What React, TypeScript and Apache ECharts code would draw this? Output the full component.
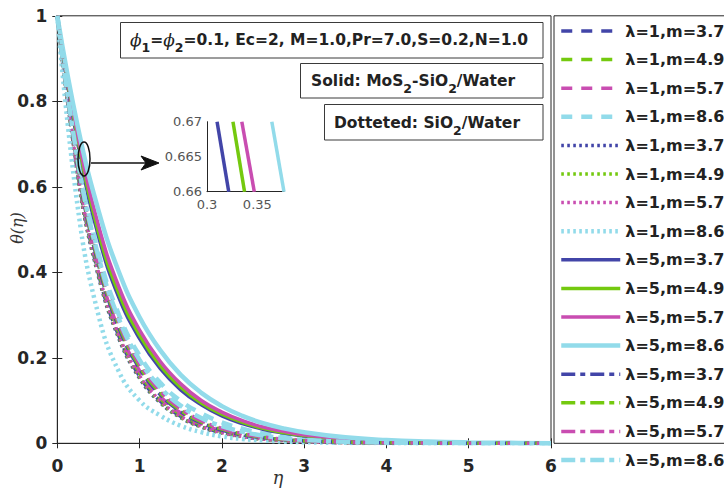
import React, { useEffect, useRef } from "react";
import * as echarts from "echarts";

// similarity variable
const eta = [0, 0.25, 0.5, 0.75, 1, 1.25, 1.5, 1.75, 2, 2.25, 2.5, 2.75, 3, 3.5, 4, 4.5, 5, 5.5, 6];

// λ=1, dashed (MoS2-SiO2/Water)
const dashM37 = [1, 0.63, 0.397, 0.25, 0.157, 0.099, 0.063, 0.04, 0.025, 0.016, 0.01, 0.0065, 0.004, 0.0017, 0.0007, 0.0003, 0.0001, 0, 0];
const dashM49 = [1, 0.635, 0.405, 0.258, 0.164, 0.105, 0.067, 0.043, 0.027, 0.0175, 0.011, 0.007, 0.0045, 0.0019, 0.0008, 0.0003, 0.0001, 0, 0];
const dashM57 = [1, 0.64, 0.412, 0.265, 0.17, 0.11, 0.071, 0.046, 0.029, 0.019, 0.012, 0.0078, 0.005, 0.0021, 0.0009, 0.0004, 0.0001, 0, 0];
const dashM86 = [1, 0.67, 0.445, 0.3, 0.205, 0.142, 0.099, 0.07, 0.049, 0.034, 0.023, 0.016, 0.011, 0.005, 0.0022, 0.001, 0.0004, 0.0002, 0.0001];

// λ=1, dotted (SiO2/Water)
const dotM37 = [1, 0.62, 0.39, 0.244, 0.152, 0.095, 0.06, 0.038, 0.024, 0.015, 0.0095, 0.006, 0.0038, 0.0016, 0.0007, 0.0003, 0.0001, 0, 0];
const dotM49 = [1, 0.625, 0.395, 0.248, 0.155, 0.097, 0.061, 0.039, 0.0245, 0.0155, 0.0098, 0.0062, 0.0039, 0.0016, 0.0007, 0.0003, 0.0001, 0, 0];
const dotM57 = [1, 0.63, 0.4, 0.252, 0.158, 0.1, 0.063, 0.04, 0.025, 0.016, 0.01, 0.0064, 0.004, 0.0017, 0.0007, 0.0003, 0.0001, 0, 0];
const dotM86 = [1, 0.55, 0.3, 0.167, 0.1, 0.065, 0.041, 0.026, 0.016, 0.01, 0.0065, 0.004, 0.0025, 0.001, 0.0004, 0.0001, 0, 0, 0];

// λ=5, solid (MoS2-SiO2/Water)
const solidM37 = [1, 0.7, 0.485, 0.34, 0.245, 0.175, 0.125, 0.09, 0.064, 0.046, 0.033, 0.024, 0.017, 0.009, 0.0045, 0.002, 0.001, 0.0005, 0];
const solidM49 = [1, 0.71, 0.495, 0.35, 0.253, 0.182, 0.131, 0.094, 0.068, 0.049, 0.035, 0.025, 0.018, 0.0095, 0.005, 0.0025, 0.0012, 0.0005, 0];
const solidM57 = [1, 0.72, 0.51, 0.365, 0.265, 0.192, 0.139, 0.1, 0.073, 0.053, 0.038, 0.028, 0.02, 0.0105, 0.0055, 0.0028, 0.0014, 0.0006, 0];
const solidM86 = [1, 0.74, 0.545, 0.4, 0.295, 0.218, 0.16, 0.118, 0.087, 0.064, 0.047, 0.035, 0.026, 0.014, 0.0075, 0.004, 0.002, 0.001, 0.0004];

// λ=5, dash-dot (SiO2/Water)
const dashDotM37 = [1, 0.645, 0.418, 0.27, 0.175, 0.114, 0.074, 0.048, 0.031, 0.02, 0.013, 0.0085, 0.0055, 0.0023, 0.001, 0.0004, 0.0002, 0, 0];
const dashDotM49 = [1, 0.65, 0.424, 0.276, 0.18, 0.118, 0.077, 0.05, 0.033, 0.0215, 0.014, 0.009, 0.006, 0.0025, 0.0011, 0.0005, 0.0002, 0, 0];
const dashDotM57 = [1, 0.655, 0.43, 0.282, 0.186, 0.123, 0.081, 0.053, 0.035, 0.023, 0.015, 0.0098, 0.0065, 0.0028, 0.0012, 0.0005, 0.0002, 0, 0];
const dashDotM86 = [1, 0.66, 0.437, 0.29, 0.195, 0.131, 0.088, 0.059, 0.04, 0.027, 0.018, 0.012, 0.008, 0.0036, 0.0016, 0.0007, 0.0003, 0.0001, 0];

// zoomed window near η≈0.34, λ=5 solid curves
const insetTheta = [0.67, 0.66];
const insetEtaM37 = [0.31, 0.3216];
const insetEtaM49 = [0.3258, 0.3373];
const insetEtaM57 = [0.3346, 0.347];
const insetEtaM86 = [0.3644, 0.3765];

const xTicks = [0, 1, 2, 3, 4, 5, 6];
const yTicks = [0, 0.2, 0.4, 0.6, 0.8, 1];

const BLUE = "#4245A8";
const GREEN = "#74C90F";
const MAGENTA = "#C94DB1";
const CYAN = "#92DBEA";

const DASH = [11, 9];
const DOT = [2.6, 3.4];
const DASHDOT = [14, 5, 5, 5];

const ZW = "\u200B";

type Curve = { name: string; data: number[]; color: string; dash: any; width: number };

const curves: Curve[] = [
  { name: "λ=1,m=3.7", data: dashM37, color: BLUE, dash: DASH, width: 3.5 },
  { name: "λ=1,m=4.9", data: dashM49, color: GREEN, dash: DASH, width: 3.5 },
  { name: "λ=1,m=5.7", data: dashM57, color: MAGENTA, dash: DASH, width: 3.5 },
  { name: "λ=1,m=8.6", data: dashM86, color: CYAN, dash: DASH, width: 4.5 },
  { name: "λ=1,m=3.7" + ZW, data: dotM37, color: BLUE, dash: DOT, width: 3.5 },
  { name: "λ=1,m=4.9" + ZW, data: dotM49, color: GREEN, dash: DOT, width: 3.5 },
  { name: "λ=1,m=5.7" + ZW, data: dotM57, color: MAGENTA, dash: DOT, width: 3.5 },
  { name: "λ=1,m=8.6" + ZW, data: dotM86, color: CYAN, dash: DOT, width: 4.5 },
  { name: "λ=5,m=3.7", data: solidM37, color: BLUE, dash: "solid", width: 3.5 },
  { name: "λ=5,m=4.9", data: solidM49, color: GREEN, dash: "solid", width: 3.5 },
  { name: "λ=5,m=5.7", data: solidM57, color: MAGENTA, dash: "solid", width: 3.5 },
  { name: "λ=5,m=8.6", data: solidM86, color: CYAN, dash: "solid", width: 4.5 },
  { name: "λ=5,m=3.7" + ZW, data: dashDotM37, color: BLUE, dash: DASHDOT, width: 3.5 },
  { name: "λ=5,m=4.9" + ZW, data: dashDotM49, color: GREEN, dash: DASHDOT, width: 3.5 },
  { name: "λ=5,m=5.7" + ZW, data: dashDotM57, color: MAGENTA, dash: DASHDOT, width: 3.5 },
  { name: "λ=5,m=8.6" + ZW, data: dashDotM86, color: CYAN, dash: DASHDOT, width: 4.5 },
];

const insetCurves = [
  { x: insetEtaM37, color: BLUE },
  { x: insetEtaM49, color: GREEN },
  { x: insetEtaM57, color: MAGENTA },
  { x: insetEtaM86, color: CYAN },
];

const AXIS_COLOR = "#262626";
const TEXT_COLOR = "#222222";
const SANS = "DejaVu Sans";
const SERIF = "DejaVu Serif";

function buildOption(): any {
  const plotLeft = 57.3;
  const plotRight = 551;
  const plotTop = 15.8;
  const plotBottom = 443.3;

  const mainSeries = curves.map((c) => ({
    type: "line",
    name: c.name,
    xAxisIndex: 0,
    yAxisIndex: 0,
    data: eta.map((x, i) => [x, c.data[i]]),
    symbol: "none",
    showSymbol: false,
    smooth: 0.45,
    silent: true,
    clip: true,
    itemStyle: { color: c.color },
    lineStyle: { color: c.color, width: c.width, type: c.dash },
    emphasis: { disabled: true },
  }));

  const insetSeries = insetCurves.map((c, k) => ({
    type: "line",
    name: "inset" + k,
    xAxisIndex: 2,
    yAxisIndex: 2,
    data: c.x.map((x, i) => [x, insetTheta[i]]),
    symbol: "none",
    showSymbol: false,
    silent: true,
    clip: true,
    lineStyle: { color: c.color, width: 3.5 },
    emphasis: { disabled: true },
  }));

  const box = (x: number, y: number, w: number, h: number) => ({
    type: "rect",
    shape: { x, y, width: w, height: h },
    style: { fill: "#ffffff", stroke: "#3a3a3a", lineWidth: 1 },
    z: 10,
  });

  const mainText = { fontFamily: SANS, fontWeight: "bold", fontSize: 15.5, lineHeight: 28, verticalAlign: "middle", fill: TEXT_COLOR };
  const subText = { fontFamily: SANS, fontWeight: "bold", fontSize: 12.5, lineHeight: 12, verticalAlign: "bottom", fill: TEXT_COLOR };
  const phiText = { fontFamily: SERIF, fontStyle: "italic", fontSize: 17, lineHeight: 28, verticalAlign: "middle", fill: TEXT_COLOR };

  return {
    animation: false,
    backgroundColor: "#ffffff",
    grid: [
      {
        left: plotLeft,
        top: plotTop,
        width: plotRight - plotLeft,
        height: plotBottom - plotTop,
        show: true,
        borderColor: AXIS_COLOR,
        borderWidth: 1,
        backgroundColor: "transparent",
      },
      { left: 207, top: 121.7, width: 77, height: 70 },
    ],
    xAxis: [
      {
        type: "value",
        gridIndex: 0,
        min: xTicks[0],
        max: xTicks[xTicks.length - 1],
        interval: 1,
        axisLine: { show: true, lineStyle: { color: AXIS_COLOR, width: 1 } },
        axisTick: { show: true, inside: true, length: 5, lineStyle: { color: AXIS_COLOR } },
        splitLine: { show: false },
        axisLabel: { margin: 14, color: AXIS_COLOR, fontFamily: SANS, fontWeight: "bold", fontSize: 17 },
      },
      {
        type: "value",
        gridIndex: 0,
        position: "top",
        min: xTicks[0],
        max: xTicks[xTicks.length - 1],
        interval: 1,
        axisLine: { show: true, lineStyle: { color: AXIS_COLOR, width: 1 } },
        axisTick: { show: true, inside: true, length: 5, lineStyle: { color: AXIS_COLOR } },
        splitLine: { show: false },
        axisLabel: { show: false },
      },
      {
        type: "value",
        gridIndex: 1,
        min: 0.3,
        max: 0.3765,
        interval: 0.05,
        axisLine: { show: true, onZero: false, lineStyle: { color: AXIS_COLOR, width: 1 } },
        axisTick: { show: false },
        splitLine: { show: false },
        axisLabel: {
          margin: 6,
          showMaxLabel: false,
          color: "#555555",
          fontFamily: SANS,
          fontSize: 13,
          formatter: (v: number) => String(Math.round(v * 1000) / 1000),
        },
      },
    ],
    yAxis: [
      {
        type: "value",
        gridIndex: 0,
        min: yTicks[0],
        max: yTicks[yTicks.length - 1],
        interval: 0.2,
        axisLine: { show: true, lineStyle: { color: AXIS_COLOR, width: 1 } },
        axisTick: { show: true, inside: true, length: 5, lineStyle: { color: AXIS_COLOR } },
        splitLine: { show: false },
        axisLabel: {
          margin: 10,
          color: AXIS_COLOR,
          fontFamily: SANS,
          fontWeight: "bold",
          fontSize: 17,
          formatter: (v: number) => String(Math.round(v * 10) / 10),
        },
      },
      {
        type: "value",
        gridIndex: 0,
        position: "right",
        min: yTicks[0],
        max: yTicks[yTicks.length - 1],
        interval: 0.2,
        axisLine: { show: true, lineStyle: { color: AXIS_COLOR, width: 1 } },
        axisTick: { show: true, inside: true, length: 5, lineStyle: { color: AXIS_COLOR } },
        splitLine: { show: false },
        axisLabel: { show: false },
      },
      {
        type: "value",
        gridIndex: 1,
        min: 0.66,
        max: 0.67,
        interval: 0.005,
        axisLine: { show: true, onZero: false, lineStyle: { color: AXIS_COLOR, width: 1 } },
        axisTick: { show: false },
        splitLine: { show: false },
        axisLabel: {
          margin: 5,
          color: "#555555",
          fontFamily: SANS,
          fontSize: 13,
          formatter: (v: number) => String(Math.round(v * 1000) / 1000),
        },
      },
    ],
    legend: {
      orient: "vertical",
      left: 559,
      top: 23,
      padding: 0,
      itemWidth: 59,
      itemHeight: 14,
      itemGap: 12.6,
      selectedMode: false,
      data: curves.map((c) => c.name),
      formatter: (name: string) => name.replace(/\u200B/g, ""),
      lineStyle: { width: "inherit" },
      itemStyle: { color: "transparent", borderWidth: 0, opacity: 0 },
      textStyle: { fontFamily: SANS, fontWeight: "bold", fontSize: 16, lineHeight: 14, color: TEXT_COLOR },
    },
    graphic: [
      // legend frame
      {
        type: "rect",
        shape: { x: 554, y: plotTop, width: 180, height: plotBottom - plotTop },
        style: { fill: "none", stroke: AXIS_COLOR, lineWidth: 1 },
        z: 0,
      },
      // parameter boxes
      box(120.5, 22.5, 422.5, 35.5),
      {
        type: "text",
        x: 130,
        y: 40,
        z: 11,
        style: {
          text: "{p|ϕ}{s|1}{t|=}{p|ϕ}{s|2}{t|=0.1, Ec=2, M=1.0,Pr=7.0,S=0.2,N=1.0}",
          align: "left",
          verticalAlign: "middle",
          rich: { t: mainText, s: subText, p: phiText },
        },
      },
      box(300.5, 63.5, 242.5, 34.5),
      {
        type: "text",
        x: 311,
        y: 81,
        z: 11,
        style: {
          text: "{t|Solid: MoS}{s|2}{t|-SiO}{s|2}{t|/Water}",
          align: "left",
          verticalAlign: "middle",
          rich: { t: mainText, s: subText },
        },
      },
      box(324.5, 104.5, 218.5, 35.5),
      {
        type: "text",
        x: 334,
        y: 122.5,
        z: 11,
        style: {
          text: "{t|Dotteted: SiO}{s|2}{t|/Water}",
          align: "left",
          verticalAlign: "middle",
          rich: { t: mainText, s: subText },
        },
      },
      // zoom marker and arrow
      {
        type: "ellipse",
        shape: { cx: 84, cy: 159, rx: 6, ry: 17 },
        style: { fill: "none", stroke: "#111111", lineWidth: 1.5 },
        z: 12,
      },
      {
        type: "line",
        shape: { x1: 91, y1: 163, x2: 150, y2: 163 },
        style: { stroke: "#111111", lineWidth: 1.5 },
        z: 12,
      },
      {
        type: "polygon",
        shape: { points: [[159, 163], [141, 156], [146, 163], [141, 170]] },
        style: { fill: "#111111", stroke: "#111111", lineWidth: 1 },
        z: 12,
      },
      // axis titles
      {
        type: "text",
        x: 17,
        y: 228,
        rotation: Math.PI / 2,
        style: {
          text: "θ(η)",
          align: "center",
          verticalAlign: "middle",
          fontFamily: SERIF,
          fontStyle: "italic",
          fontSize: 16,
          fill: "#333333",
        },
      },
      {
        type: "text",
        x: 278,
        y: 477,
        style: {
          text: "η",
          align: "center",
          verticalAlign: "middle",
          fontFamily: SERIF,
          fontStyle: "italic",
          fontSize: 18,
          fill: "#333333",
        },
      },
    ],
    series: [...mainSeries, ...insetSeries],
  };
}

export default function App() {
  const ref = useRef<HTMLDivElement>(null);
  useEffect(() => {
    if (!ref.current) return;
    const chart = echarts.init(ref.current, undefined, { renderer: "svg" });
    chart.setOption(buildOption());
    return () => chart.dispose();
  }, []);
  return (
    <div
      ref={ref}
      style={{ position: "fixed", left: 0, top: 0, width: 724, height: 491, background: "#ffffff" }}
    />
  );
}
